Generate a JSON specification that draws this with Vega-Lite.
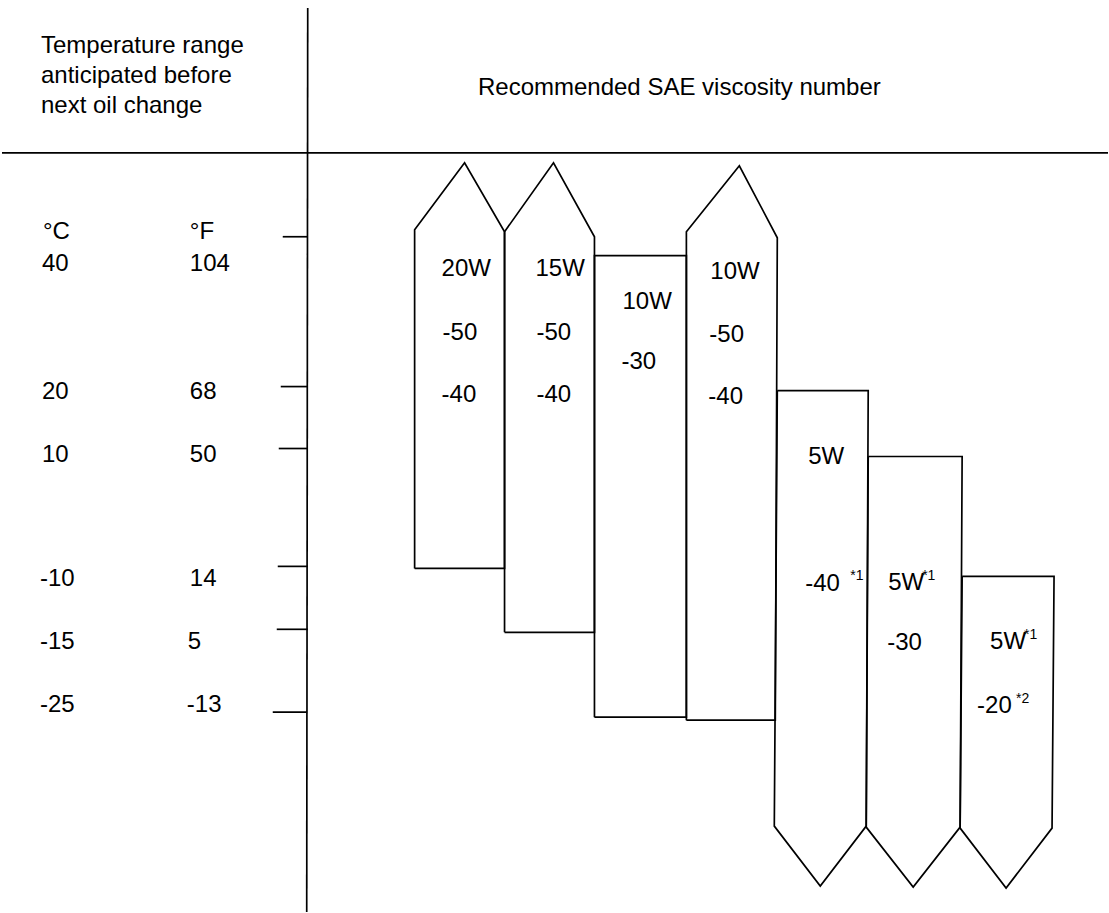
{
  "$schema": "https://vega.github.io/schema/vega-lite/v6.json",
  "width": 1109,
  "height": 913,
  "autosize": {"type": "fit", "contains": "padding"},
  "padding": 0,
  "background": "white",
  "config": {"view": {"stroke": null}},
  "datasets": {
    "shapes": [
      {"col": "c1", "ord": 1, "x": 415, "y": 569}, {"col": "c1", "ord": 2, "x": 415, "y": 230}, {"col": "c1", "ord": 3, "x": 465, "y": 163}, {"col": "c1", "ord": 4, "x": 505, "y": 232}, {"col": "c1", "ord": 5, "x": 505, "y": 569}, {"col": "c1", "ord": 6, "x": 415, "y": 569},
      {"col": "c2", "ord": 1, "x": 505, "y": 633}, {"col": "c2", "ord": 2, "x": 505, "y": 232}, {"col": "c2", "ord": 3, "x": 554, "y": 163}, {"col": "c2", "ord": 4, "x": 595, "y": 237}, {"col": "c2", "ord": 5, "x": 595, "y": 633}, {"col": "c2", "ord": 6, "x": 505, "y": 633},
      {"col": "c3", "ord": 1, "x": 595, "y": 718}, {"col": "c3", "ord": 2, "x": 595, "y": 256}, {"col": "c3", "ord": 3, "x": 687, "y": 256}, {"col": "c3", "ord": 4, "x": 687, "y": 718}, {"col": "c3", "ord": 5, "x": 595, "y": 718},
      {"col": "c4", "ord": 1, "x": 687, "y": 721}, {"col": "c4", "ord": 2, "x": 687, "y": 232}, {"col": "c4", "ord": 3, "x": 740, "y": 166}, {"col": "c4", "ord": 4, "x": 778, "y": 238}, {"col": "c4", "ord": 5, "x": 776, "y": 721}, {"col": "c4", "ord": 6, "x": 687, "y": 721},
      {"col": "c5", "ord": 1, "x": 778, "y": 391}, {"col": "c5", "ord": 2, "x": 869, "y": 391}, {"col": "c5", "ord": 3, "x": 867, "y": 827}, {"col": "c5", "ord": 4, "x": 821, "y": 887}, {"col": "c5", "ord": 5, "x": 775, "y": 827}, {"col": "c5", "ord": 6, "x": 778, "y": 391},
      {"col": "c6", "ord": 1, "x": 869, "y": 457}, {"col": "c6", "ord": 2, "x": 963, "y": 457}, {"col": "c6", "ord": 3, "x": 961, "y": 828}, {"col": "c6", "ord": 4, "x": 914, "y": 888}, {"col": "c6", "ord": 5, "x": 867, "y": 828}, {"col": "c6", "ord": 6, "x": 869, "y": 457},
      {"col": "c7", "ord": 1, "x": 963, "y": 577}, {"col": "c7", "ord": 2, "x": 1055, "y": 577}, {"col": "c7", "ord": 3, "x": 1053, "y": 829}, {"col": "c7", "ord": 4, "x": 1007, "y": 889}, {"col": "c7", "ord": 5, "x": 961, "y": 829}, {"col": "c7", "ord": 6, "x": 963, "y": 577}
    ],
    "rules": [
      {"x": 2, "y": 153, "x2": 1109, "y2": 153},
      {"x": 308, "y": 8, "x2": 307, "y2": 913},
      {"x": 283, "y": 237, "x2": 308, "y2": 237},
      {"x": 281, "y": 387, "x2": 308, "y2": 387},
      {"x": 279, "y": 449, "x2": 308, "y2": 449},
      {"x": 278, "y": 567, "x2": 308, "y2": 567},
      {"x": 277, "y": 630, "x2": 308, "y2": 630},
      {"x": 273, "y": 713, "x2": 307, "y2": 713}
    ],
    "leftText": [
      {"x": 41, "y": 46, "t": "Temperature range"},
      {"x": 41, "y": 76, "t": "anticipated before"},
      {"x": 41, "y": 106, "t": "next oil change"},
      {"x": 43, "y": 232, "t": "°C"},
      {"x": 190, "y": 232, "t": "°F"},
      {"x": 42, "y": 264, "t": "40"},
      {"x": 190, "y": 264, "t": "104"},
      {"x": 42, "y": 392, "t": "20"},
      {"x": 190, "y": 392, "t": "68"},
      {"x": 42, "y": 455, "t": "10"},
      {"x": 190, "y": 455, "t": "50"},
      {"x": 40, "y": 580, "t": "-10"},
      {"x": 190, "y": 580, "t": "14"},
      {"x": 40, "y": 643, "t": "-15"},
      {"x": 188, "y": 643, "t": "5"},
      {"x": 40, "y": 706, "t": "-25"},
      {"x": 187, "y": 706, "t": "-13"},
      {"x": 442, "y": 269, "t": "20W"},
      {"x": 443, "y": 333, "t": "-50"},
      {"x": 442, "y": 395, "t": "-40"},
      {"x": 536, "y": 269, "t": "15W"},
      {"x": 537, "y": 333, "t": "-50"},
      {"x": 537, "y": 395, "t": "-40"},
      {"x": 623, "y": 302, "t": "10W"},
      {"x": 622, "y": 362, "t": "-30"},
      {"x": 711, "y": 272, "t": "10W"},
      {"x": 710, "y": 335, "t": "-50"},
      {"x": 709, "y": 397, "t": "-40"},
      {"x": 809, "y": 458, "t": "5W"},
      {"x": 806, "y": 585, "t": "-40"},
      {"x": 889, "y": 584, "t": "5W"},
      {"x": 888, "y": 644, "t": "-30"},
      {"x": 991, "y": 643, "t": "5W"},
      {"x": 978, "y": 707, "t": "-20"}
    ],
    "supText": [
      {"x": 851, "y": 577, "t": "*1"},
      {"x": 923, "y": 577, "t": "*1"},
      {"x": 1025, "y": 636, "t": "*1"},
      {"x": 1017, "y": 700, "t": "*2"}
    ],
    "centerText": [
      {"x": 680, "y": 88, "t": "Recommended SAE viscosity number"}
    ]
  },
  "encoding": {
    "x": {"field": "x", "type": "quantitative", "scale": {"domain": [0, 1109], "nice": false, "zero": false}, "axis": null},
    "y": {"field": "y", "type": "quantitative", "scale": {"domain": [0, 913], "nice": false, "zero": false, "reverse": true}, "axis": null}
  },
  "layer": [
    {
      "data": {"name": "shapes"},
      "mark": {"type": "line", "color": "black", "strokeWidth": 1.7, "strokeJoin": "miter", "interpolate": "linear"},
      "encoding": {
        "detail": {"field": "col", "type": "nominal"},
        "order": {"field": "ord", "type": "quantitative"}
      }
    },
    {
      "data": {"name": "rules"},
      "mark": {"type": "rule", "color": "black", "strokeWidth": 1.7},
      "encoding": {
        "x2": {"field": "x2"},
        "y2": {"field": "y2"}
      }
    },
    {
      "data": {"name": "leftText"},
      "mark": {"type": "text", "align": "left", "baseline": "middle", "font": "Liberation Sans", "fontSize": 24, "color": "black"},
      "encoding": {"text": {"field": "t", "type": "nominal"}}
    },
    {
      "data": {"name": "centerText"},
      "mark": {"type": "text", "align": "center", "baseline": "middle", "font": "Liberation Sans", "fontSize": 24, "color": "black"},
      "encoding": {"text": {"field": "t", "type": "nominal"}}
    },
    {
      "data": {"name": "supText"},
      "mark": {"type": "text", "align": "left", "baseline": "middle", "font": "Liberation Sans", "fontSize": 14, "color": "black"},
      "encoding": {"text": {"field": "t", "type": "nominal"}}
    }
  ]
}
